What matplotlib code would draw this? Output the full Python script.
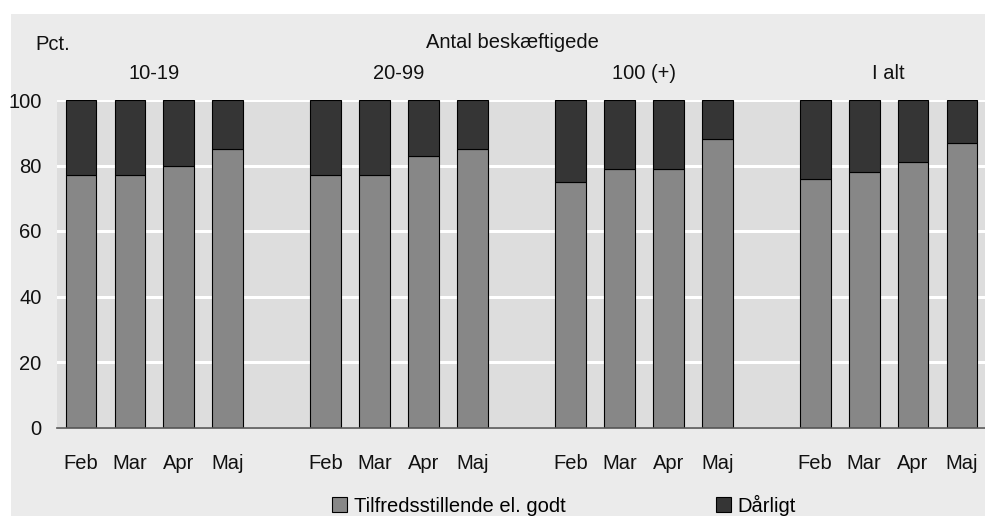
import matplotlib
matplotlib.use("Agg")
import matplotlib.pyplot as plt
from matplotlib.patches import Rectangle, Patch
import numpy as np

plt.rcParams['font.family'] = ['Liberation Sans Narrow', 'Liberation Sans', 'DejaVu Sans']

groups = ["10-19", "20-99", "100 (+)", "I alt"]
months = ["Feb", "Mar", "Apr", "Maj"]
good = {
    "10-19": [77, 77, 80, 85],
    "20-99": [77, 77, 83, 85],
    "100 (+)": [75, 79, 79, 88],
    "I alt": [76, 78, 81, 87],
}
series_names = ["Tilfredsstillende el. godt", "Dårligt"]
c_good = "#878787"
c_bad = "#353535"

W, H = 985, 516
fig = plt.figure(figsize=(W / 100, H / 100), dpi=100, facecolor="white")
fig.patches.append(Rectangle((11 / W, 0), 1 - 11 / W, 1 - 14 / H, transform=fig.transFigure,
                             facecolor="#ebebeb", edgecolor="none", zorder=-10))

ax = fig.add_axes([57 / W, (H - 427.5) / H, (W - 57) / W, (427.5 - 100) / H])
ax.set_facecolor("#dddddd")

xpos, xlabels = [], []
for gi, g in enumerate(groups):
    for mi, m in enumerate(months):
        xpos.append(gi * 5 + mi)
        xlabels.append(m)
goodvals = np.array([v for g in groups for v in good[g]])
badvals = 100 - goodvals
xpos = np.array(xpos)

bw = 0.63
ax.bar(xpos, goodvals, bw, color=c_good, edgecolor="black", linewidth=0.8, zorder=3)
ax.bar(xpos, badvals, bw, bottom=goodvals, color=c_bad, edgecolor="black", linewidth=0.8, zorder=3)

ax.set_xlim(-0.49, 18.47)
ax.set_ylim(0, 100)
ax.set_yticks([0, 20, 40, 60, 80, 100])
ax.yaxis.grid(True, color="white", linewidth=2.2, zorder=1)
ax.set_axisbelow(True)
for s in ["top", "right", "left"]:
    ax.spines[s].set_visible(False)
ax.spines["bottom"].set_color("#555555")
ax.spines["bottom"].set_linewidth(1.2)
ax.spines["bottom"].set_zorder(4)

ax.set_xticks(xpos)
ax.set_xticklabels(xlabels, fontsize=14.5, color="#111111")
ax.tick_params(axis="x", length=0, pad=19)
ax.tick_params(axis="y", length=0, pad=11, labelsize=14.5, labelcolor="#111111")

fig.text(35 / W, 1 - 44 / H, "Pct.", fontsize=14.5, ha="left", va="center", color="#111111")
fig.text(512 / W, 1 - 43 / H, "Antal beskæftigede", fontsize=14.5, ha="center", va="center", color="#111111")
for gi, g in enumerate(groups):
    ax.annotate(g, xy=(gi * 5 + 1.5, 1), xycoords=("data", "axes fraction"),
                xytext=(0, 26.5 * 0.72), textcoords="offset points",
                ha="center", va="center", fontsize=14.5, color="#111111")

handles = [Patch(facecolor=c_good, edgecolor="black", linewidth=0.8),
           Patch(facecolor=c_bad, edgecolor="black", linewidth=0.8)]
fig.legend(handles, series_names, loc="center", bbox_to_anchor=(564 / W, 1 - 505 / H),
           ncol=2, frameon=False, fontsize=14.5, handlelength=0.75, handleheight=0.75,
           handletextpad=0.35, columnspacing=7.45, borderaxespad=0)

fig.savefig("out.png", dpi=100, facecolor="white")
